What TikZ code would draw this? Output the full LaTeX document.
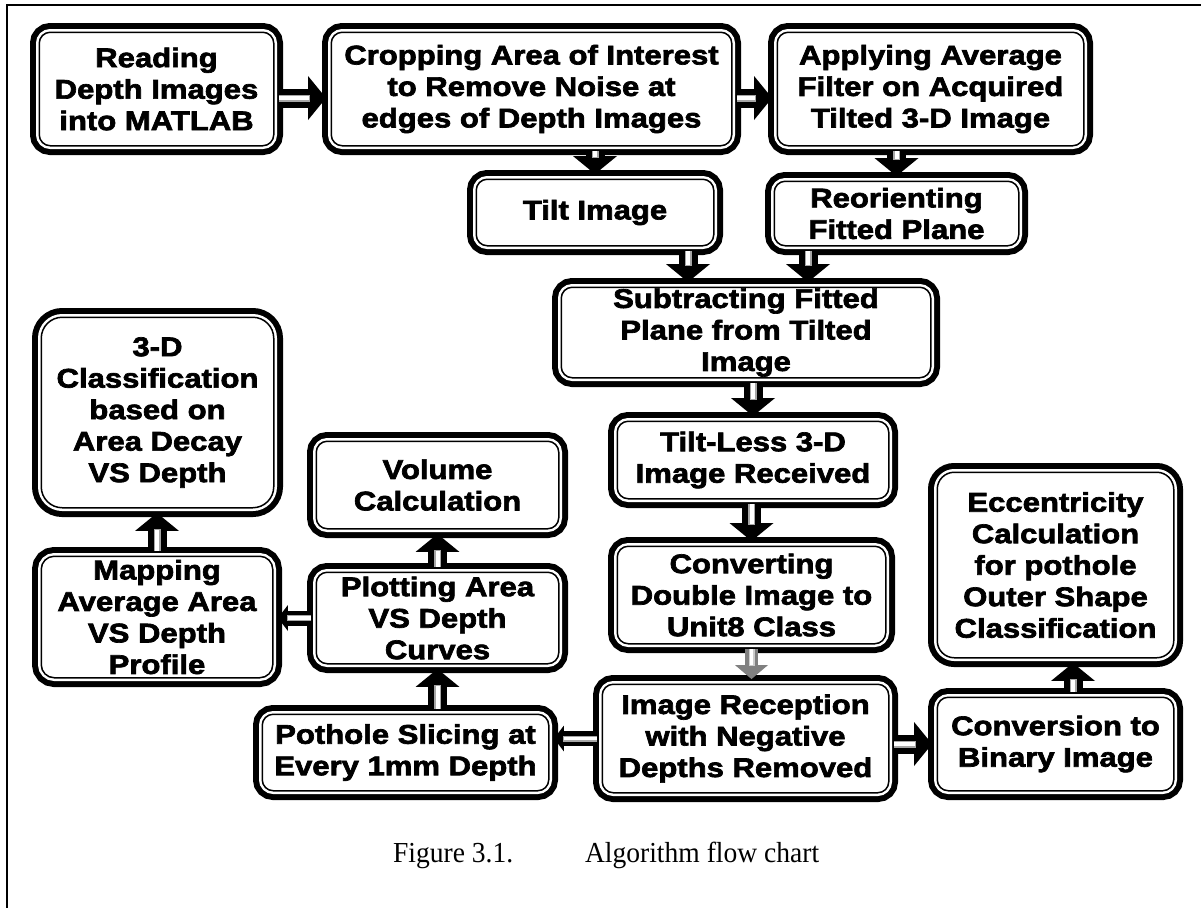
\documentclass[tikz,border=0pt]{standalone}
\usepackage{fontspec}
\setmainfont{Liberation Serif}
\newfontfamily\boxfont{Liberation Sans}[BoldFeatures={FakeStretch=1.15,FakeBold=2.5}]
\newfontfamily\captionfont{Liberation Serif}[FakeStretch=0.95]
\usetikzlibrary{arrows.meta,calc}

\tikzset{
  % rounded box: heavy outer border, white gap, thin inner border
  flowbox/.style={
    rounded corners=5.5pt,
    fill=white, draw=black, line width=0.75pt,
    preaction={draw=black, line width=9.25pt},
    preaction={draw=white, line width=3.25pt},
    inner sep=0pt, outer sep=2.6pt,
    align=center,
    font=\boxfont\bfseries\fontsize{13.5pt}{15.75pt}\selectfont
  },
  % block arrow with a light stripe along its shaft
  flowarrow/.style={
    draw=black, line width=9.5pt,
    -{Triangle[width=22pt,length=9pt,line width=0pt]},
    postaction={draw=gray!70, line width=3.5pt, -, shorten >=8pt},
    postaction={draw=white, line width=2pt, -, shorten >=8.5pt}
  },
  smallarrow/.style={
    draw=black, line width=7.5pt,
    -{Triangle[width=13pt,length=5pt,line width=0pt]},
    postaction={draw=gray!70, line width=3pt, -, shorten >=4.5pt},
    postaction={draw=white, line width=1.6pt, -, shorten >=5pt}
  },
  grayarrow/.style={
    draw=black!50, line width=6.5pt,
    -{Triangle[width=16.5pt,length=7pt,line width=0pt]},
    postaction={draw=gray!40, line width=3pt, -, shorten >=6.5pt},
    postaction={draw=white, line width=1.6pt, -, shorten >=7pt}
  }
}

\begin{document}
\begin{tikzpicture}[x=0.5pt,y=-0.5pt]
\useasboundingbox (0,0) rectangle (1201,907);

% page frame
\draw[line width=1pt] (7,910) -- (7,5) -- (1205,5);

% process boxes
\node[flowbox, minimum width=117.25pt, minimum height=56.75pt] (read) at (156.5,89)
  {Reading\\Depth Images\\into MATLAB};
\node[flowbox, minimum width=200.25pt, minimum height=56.75pt] (crop) at (531.5,89)
  {Cropping Area of Interest\\to Remove Noise at\\edges of Depth Images};
\node[flowbox, minimum width=153.25pt, minimum height=56.75pt] (avgfilt) at (930.5,89)
  {Applying Average\\Filter on Acquired\\Tilted 3-D Image};
\node[flowbox, minimum width=118.75pt, minimum height=33.25pt] (tilt) at (595,212.5)
  {Tilt Image};
\node[flowbox, minimum width=122.25pt, minimum height=32.25pt] (reorient) at (896.5,213.5)
  {Reorienting\\Fitted Plane};
\node[flowbox, minimum width=184.75pt, minimum height=45.25pt] (subtract) at (746,332.5)
  {Subtracting Fitted\\Plane from Tilted\\Image};
\node[flowbox, minimum width=135.75pt, minimum height=38.75pt] (tiltless) at (753,460)
  {Tilt-Less 3-D\\Image Received};
\node[flowbox, minimum width=134.25pt, minimum height=48.75pt] (convert) at (751.5,595)
  {Converting\\Double Image to\\Unit8 Class};
\node[flowbox, minimum width=143.25pt, minimum height=54.25pt] (recept) at (745.5,738.5)
  {Image Reception\\with Negative\\Depths Removed};
\node[flowbox, minimum width=118.25pt, minimum height=46.75pt] (binary) at (1055.5,744)
  {Conversion to\\Binary Image};
\node[flowbox, rounded corners=8.5pt, minimum width=118.25pt, minimum height=92.75pt] (eccen) at (1055.5,565)
  {Eccentricity\\Calculation\\for pothole\\Outer Shape\\Classification};
\node[flowbox, minimum width=143.25pt, minimum height=38.25pt] (slice) at (405.5,752.5)
  {Pothole Slicing at\\Every 1mm Depth};
\node[flowbox, minimum width=121.25pt, minimum height=45.75pt] (plot) at (437.5,618)
  {Plotting Area\\VS Depth\\Curves};
\node[flowbox, minimum width=121.25pt, minimum height=43.75pt] (volume) at (437.5,485)
  {Volume\\Calculation};
\node[flowbox, rounded corners=6.5pt, minimum width=115.75pt, minimum height=60.75pt] (mapping) at (157,617)
  {Mapping\\Average Area\\VS Depth\\Profile};
\node[flowbox, rounded corners=10.5pt, minimum width=116.25pt, minimum height=95.25pt] (classify) at (157.5,412.5)
  {3-D\\Classification\\based on\\Area Decay\\VS Depth};

% connectors
\draw[flowarrow] ([yshift=-4.5pt]read.east) -- ([yshift=-4.5pt]crop.west);
\draw[flowarrow] ([yshift=-4.5pt]crop.east) -- ([yshift=-4.5pt]avgfilt.west);
\draw[flowarrow] (tilt.north |- crop.south) -- (tilt.north);
\draw[flowarrow] (reorient.north |- avgfilt.south) -- (reorient.north);
\draw[flowarrow] ($(tilt.south)+(46.5pt,0)$) -- ($(tilt.south |- subtract.north)+(46.5pt,0)$);
\draw[flowarrow] ($(reorient.south)+(-44.25pt,0)$) -- ($(reorient.south |- subtract.north)+(-44.25pt,0)$);
\draw[flowarrow] (tiltless.north |- subtract.south) -- (tiltless.north);
\draw[flowarrow] (convert.north |- tiltless.south) -- (convert.north);
\draw[grayarrow] (convert.south) -- (convert.south |- recept.north);
\draw[flowarrow] (binary.west -| recept.east) -- (binary.west);
\draw[smallarrow] (recept.west) -- (recept.west -| slice.east);
\draw[flowarrow] ($(binary.north)+(8.75pt,0)$) -- ($(binary.north |- eccen.south)+(8.75pt,0)$);
\draw[flowarrow] (plot.south |- slice.north) -- (plot.south);
\draw[flowarrow] (plot.north) -- (volume.south);
\draw[smallarrow] (plot.west) -- (plot.west -| mapping.east);
\draw[flowarrow] (mapping.north) -- (mapping.north |- classify.south);

% caption
\node[anchor=base west, font=\captionfont\fontsize{14.5pt}{17pt}\selectfont] (caption) at (386,862)
  {\makebox[96pt][l]{Figure 3.1.}Algorithm flow chart};
\end{tikzpicture}
\end{document}
